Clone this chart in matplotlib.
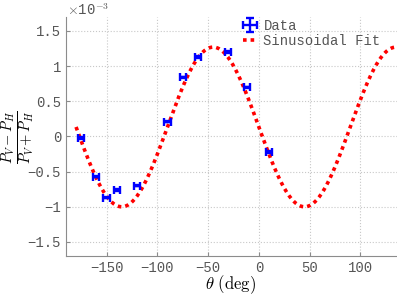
import numpy as np
import matplotlib
matplotlib.use('Agg')
import matplotlib.pyplot as plt

# Data (values in units of 1e-3)
theta = [-175, -160, -150, -140, -120, -90, -75, -60, -30, -12, 10]
ratio = [-0.02, -0.57, -0.87, -0.76, -0.70, 0.21, 0.84, 1.13, 1.20, 0.70, -0.22]
theta_err = [3, 3, 3, 3, 3, 3, 3, 3, 3, 3, 3]
ratio_err = [0.01, 0.01, 0.01, 0.01, 0.01, 0.01, 0.01, 0.01, 0.01, 0.01, 0.01]

# Fit parameters
amp = 1.135
offset = 0.135
phase = 45
fit_x = np.linspace(-180, 136, 400)
fit_y = offset + amp * np.cos(np.deg2rad(2 * (fit_x + phase)))

xticks = [-150, -100, -50, 0, 50, 100]
yticks = [-1.5, -1, -0.5, 0, 0.5, 1, 1.5]
ytick_labels = ['\u22121.5', '\u22121', '\u22120.5', '0', '0.5', '1', '1.5']

plt.rcParams['mathtext.fontset'] = 'cm'
mono = 'Liberation Mono'
gray = '#555555'

fig = plt.figure(figsize=(3.97, 2.96), dpi=100)
ax = fig.add_axes([0.166, 0.135, 0.834, 0.808])

eb = ax.errorbar(theta, ratio, xerr=theta_err, yerr=ratio_err, fmt='none',
                 ecolor='blue', elinewidth=1.7, capsize=2.6, capthick=1.7,
                 label='Data', zorder=3)
fit_line, = ax.plot(fit_x, fit_y, color='red', linestyle=(0, (1, 1.1)),
                    linewidth=2.6, label='Sinusoidal Fit', zorder=2)

ax.set_xlim(-190, 136)
ax.set_ylim(-1.7, 1.7)
ax.set_xticks(xticks)
ax.set_yticks(yticks)
ax.set_yticklabels(ytick_labels)
ax.grid(True, linestyle=':', color='#c8c8c8', linewidth=0.8)
ax.set_axisbelow(True)

for s in ['top', 'right']:
    ax.spines[s].set_visible(False)
for s in ['left', 'bottom']:
    ax.spines[s].set_color('#8c8c8c')
ax.tick_params(direction='in', length=3, color='#8c8c8c', labelcolor=gray,
               labelsize=10)
for lab in ax.get_xticklabels() + ax.get_yticklabels():
    lab.set_fontfamily(mono)

# axis labels placed by hand
fig.text(231 / 397, 1 - 285 / 296, r'$\theta\ \mathrm{(deg)}$', fontsize=12,
         ha='center', va='center')
fig.text(18 / 397, 1 - 137 / 296, r'$\frac{P_V - P_H}{P_V + P_H}$',
         fontsize=15, ha='center', va='center', rotation=90)

fig.text(0.168, 1 - 15 / 296, r'$\times$10$^{-3}$', fontsize=10, color=gray,
         family=mono, va='baseline')

leg = ax.legend([eb, fit_line], ['Data', 'Sinusoidal Fit'],
                loc='upper left', bbox_to_anchor=(0.517, 1.015),
                frameon=False, prop={'family': mono, 'size': 10},
                handlelength=1.1, handletextpad=0.4, labelspacing=0.05,
                borderaxespad=0)
for t in leg.get_texts():
    t.set_color(gray)

fig.savefig('out.png', dpi=100)
